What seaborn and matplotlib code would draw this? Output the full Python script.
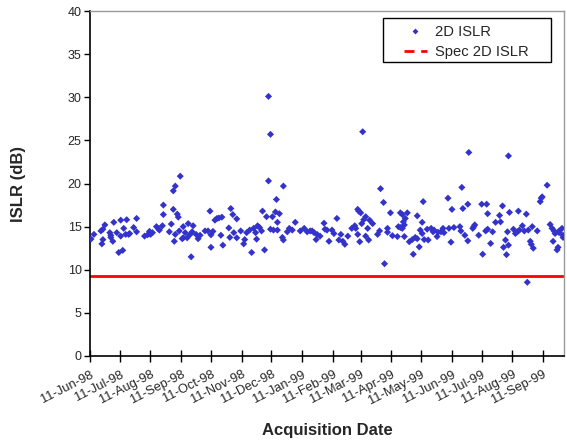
import numpy as np
import pandas as pd
import matplotlib
matplotlib.use("Agg")
import matplotlib.pyplot as plt
from matplotlib.lines import Line2D
from matplotlib.patches import Rectangle
import seaborn as sns

# ---- data ----
start_date = "1998-06-11"
axis_end_days = 478
days_since_start = [
    1, 4, 11, 13, 13, 12, 15, 20, 21, 21, 23, 24, 27, 29, 31, 31, 33, 34, 36, 37,
    39, 40, 44, 47, 47, 55, 58, 60, 61, 63, 67, 69, 70, 73, 74, 74, 80, 82, 84, 84,
    86, 88, 89, 85, 86, 90, 91, 93, 94, 94,
    96, 98, 99, 101, 103, 104, 102, 107, 109, 111, 116, 119, 121, 122, 122, 124, 126, 128, 130, 133,
    132, 134, 140, 141, 142, 144, 145, 148, 148, 152, 155, 156, 158, 161, 163, 165, 167, 168, 169, 171,
    173, 174, 176, 178, 180, 182, 184, 185, 187, 188, 189, 189, 191, 180, 182,
    195, 194, 195, 199, 201, 204, 207, 212, 216, 219, 222, 224, 226, 229, 228, 232, 236, 237, 239, 241,
    244, 246, 249, 251, 253, 255, 257, 260, 264, 267, 268, 270, 270, 271, 273, 274, 272, 276, 278, 280,
    278, 282, 281, 285, 275,
    293, 296, 297, 290, 292, 300, 300, 303, 305, 310, 311, 313, 315, 316, 317, 318, 320, 315, 317, 313,
    322, 325, 326, 328, 330, 330, 332, 333, 335, 336, 335, 337, 340, 341, 344, 346, 347, 350, 351, 354,
    356, 357, 361, 362, 364, 365, 374, 373, 375, 376, 378, 381, 381, 367,
    382, 386, 387, 388, 392, 395, 396, 399, 400, 401, 401, 404, 406, 409, 413, 414, 416, 417, 419, 420,
    422, 421, 423, 422, 427, 429, 431, 432, 433, 436, 438, 440, 441, 442, 444, 445, 446, 447, 451, 454,
    455, 456, 461, 464, 466, 467, 468, 469, 471, 472, 473, 476, 477, 477, 473,
]
islr_db = [
    13.56, 14.1, 14.5, 14.7, 13.5, 13.0, 15.2, 14.3, 14.0, 13.75, 13.3, 15.5, 14.3, 12.0, 15.75, 13.9, 12.25, 14.8, 14.1, 15.8,
    14.1, 14.2, 14.9, 15.95, 14.4, 13.9, 14.05, 14.45, 14.1, 14.3, 15.0, 14.75, 14.6, 15.1, 17.5, 16.4, 14.4, 15.3, 17.0, 19.15,
    19.7, 16.45, 16.1, 13.3, 14.1, 14.5, 20.85, 13.6, 15.0, 13.7,
    14.3, 13.7, 15.35, 14.1, 14.4, 15.1, 11.5, 14.1, 13.6, 14.0, 14.5, 14.5, 16.8, 14.05, 12.6, 14.45, 15.75, 15.95, 16.0, 16.1,
    14.0, 12.85, 14.85, 13.75, 17.1, 16.4, 14.3, 15.9, 13.7, 14.5, 13.0, 13.5, 14.3, 14.6, 12.0, 14.8, 14.3, 13.55, 15.1, 14.9,
    14.5, 16.8, 12.3, 16.15, 20.3, 14.7, 16.15, 14.6, 16.7, 18.15, 14.6, 15.5, 16.5, 30.1, 25.7,
    19.7, 13.75, 13.45, 14.4, 14.8, 14.6, 15.5, 14.5, 14.8, 14.4, 14.5, 14.5, 14.3, 14.1, 13.5, 13.9, 15.4, 14.7, 14.6, 13.3,
    14.6, 14.2, 15.95, 13.45, 14.1, 13.3, 12.95, 13.9, 14.8, 15.1, 14.8, 14.1, 17.0, 16.8, 16.6, 15.35, 13.25, 15.8, 16.15, 14.8,
    13.9, 15.75, 13.45, 15.35, 26.0,
    19.4, 17.8, 10.7, 14.1, 14.5, 14.8, 14.35, 16.6, 13.95, 13.85, 15.0, 16.6, 16.4, 15.55, 15.2, 15.95, 16.6, 14.8, 13.85, 14.9,
    13.25, 13.5, 11.8, 13.75, 16.25, 13.6, 12.65, 14.6, 15.5, 17.9, 14.2, 13.5, 14.7, 13.45, 14.8, 14.4, 14.6, 13.85, 14.35, 14.4,
    14.8, 14.3, 18.3, 14.8, 13.2, 17.0, 14.5, 15.0, 19.55, 17.1, 14.0, 13.35, 17.6, 14.9, 23.6,
    14.8, 15.0, 15.2, 14.0, 17.6, 11.8, 14.5, 17.6, 16.5, 14.7, 13.05, 14.4, 15.5, 16.3, 15.55, 17.4, 12.6, 13.45, 11.75, 12.85,
    14.4, 16.65, 23.2, 14.7, 14.2, 14.4, 16.8, 14.6, 15.1, 14.5, 16.45, 8.55, 14.6, 13.3, 12.95, 15.0, 12.5, 14.5, 17.9, 18.3,
    18.45, 19.8, 15.25, 14.8, 13.3, 14.5, 14.2, 12.3, 12.6, 14.5, 14.8, 14.0, 13.75, 14.3, 14.4, 14.1, 33.5, 12.15, 13.3, 16.7,
]
spec_islr_db = 9.3
y_ticks = [0, 5, 10, 15, 20, 25, 30, 35, 40]
tick_labels = ["11-Jun-98", "11-Jul-98", "11-Aug-98", "11-Sep-98", "11-Oct-98", "11-Nov-98",
               "11-Dec-98", "11-Jan-99", "11-Feb-99", "11-Mar-99", "11-Apr-99", "11-May-99",
               "11-Jun-99", "11-Jul-99", "11-Aug-99", "11-Sep-99"]
series_names = ["2D ISLR", "Spec 2D ISLR"]

# ---- build frame ----
t0 = pd.Timestamp(start_date)
n = min(len(days_since_start), len(islr_db))
df = pd.DataFrame({
    "date": t0 + pd.to_timedelta(np.array(days_since_start[:n]), unit="D"),
    "islr": islr_db[:n],
})
tick_dates = pd.to_datetime(tick_labels, format="%d-%b-%y")

sns.set_theme(style="white")
plt.rcParams["font.family"] = ["Liberation Sans", "DejaVu Sans"]

W, H = 567, 443
fig = plt.figure(figsize=(W / 100, H / 100), dpi=100)
ax = fig.add_axes([90 / W, 1 - 356 / H, (564 - 90) / W, (356 - 11) / H])
ax.set_facecolor("white")

point_color = "#3333CC"
sns.scatterplot(data=df, x="date", y="islr", ax=ax, marker="D", s=13,
                color=point_color, edgecolor="none", linewidth=0, zorder=3)
ax.axhline(spec_islr_db, color="#FF0000", lw=2.0, zorder=2)

ax.set_xlim(t0, t0 + pd.Timedelta(days=axis_end_days))
ax.set_ylim(0, 40)
ax.set_yticks(y_ticks)
ax.set_xticks(tick_dates)
ax.set_xticklabels(tick_labels)

ax.tick_params(axis="y", direction="out", length=4, width=1, color="black",
               labelsize=9, pad=2, left=True)
ax.tick_params(axis="x", direction="inout", length=8, width=1, color="black",
               labelsize=9.3, pad=5, bottom=True)
for lab in ax.get_xticklabels():
    lab.set_rotation(27)
    lab.set_ha("right")
    lab.set_rotation_mode("anchor")

for side in ["left", "bottom"]:
    ax.spines[side].set_color("black")
    ax.spines[side].set_linewidth(1.2)
for side in ["top", "right"]:
    ax.spines[side].set_color("#999999")
    ax.spines[side].set_linewidth(1.0)

ax.set_xlabel("Acquisition Date", fontsize=12, fontweight="bold")
ax.set_ylabel("ISLR (dB)", fontsize=12, fontweight="bold")
ax.xaxis.set_label_coords(0.5, -0.193)
ax.yaxis.set_label_coords(-0.135, 0.5)

# legend box (Excel-style, square, with generous padding)
fig.patches.append(Rectangle((383 / W, 1 - 62 / H), (551 - 383) / W, (62 - 18) / H,
                             transform=fig.transFigure, facecolor="white",
                             edgecolor="black", linewidth=1.0, zorder=5))
handles = [
    Line2D([], [], marker="D", color=point_color, linestyle="none", markersize=3.0,
           markeredgewidth=0),
    Line2D([], [], color="#FF0000", lw=2, linestyle=(0, (3.6, 2.4))),
]
leg = fig.legend(handles, series_names, loc="upper left",
                 bbox_to_anchor=(404 / W, 1 - 25 / H),
                 frameon=False, fontsize=10.6, handlelength=1.55,
                 borderpad=0.0, labelspacing=0.42, handletextpad=0.55, borderaxespad=0.0)
leg.set_zorder(6)

fig.savefig("out.png", dpi=100, facecolor="white")
